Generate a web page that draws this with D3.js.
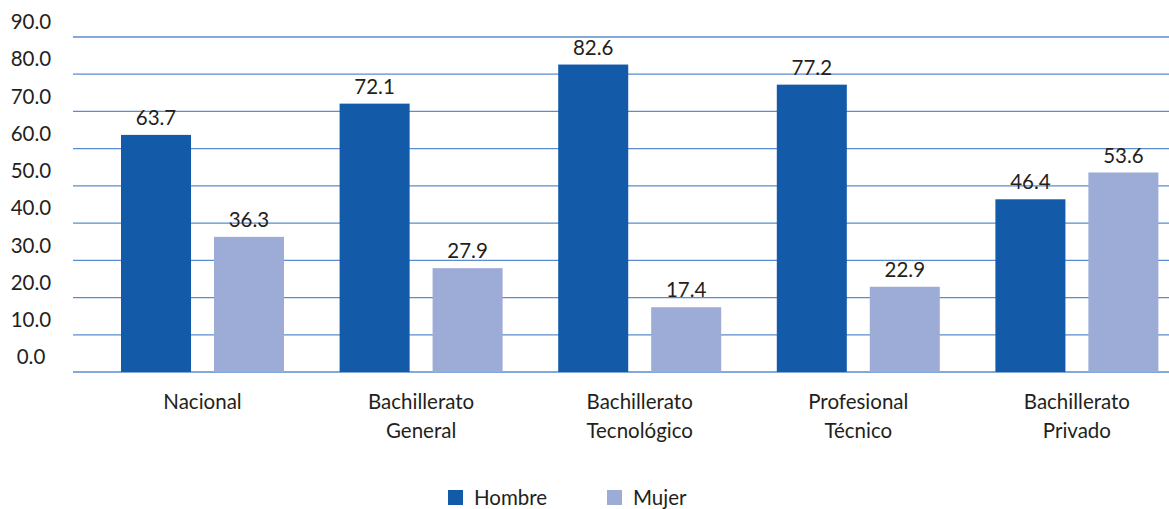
<!DOCTYPE html>
<html>
<head>
<meta charset="utf-8">
<script src="https://cdn.jsdelivr.net/npm/d3@7"></script>
<style>
  body { margin: 0; background: #fff; }
  text { font-family: Lato, "Open Sans", sans-serif; fill: #231f20; }
</style>
</head>
<body>
<div id="chart"></div>
<script>
// categories (each split into lines)
const categories = [
  ['Nacional'],
  ['Bachillerato', 'General'],
  ['Bachillerato', 'Tecnológico'],
  ['Profesional', 'Técnico'],
  ['Bachillerato', 'Privado']
];
const hombre = [63.7, 72.1, 82.6, 77.2, 46.4];
const mujer = [36.3, 27.9, 17.4, 22.9, 53.6];
const seriesNames = ['Hombre', 'Mujer'];
const yTicks = [0, 10, 20, 30, 40, 50, 60, 70, 80, 90];

const W = 1169, H = 509;
const colors = { Hombre: '#135ba9', Mujer: '#9dabd7' };
const fs = '20.5px';

const svg = d3.select('#chart').append('svg')
  .attr('width', W).attr('height', H);

const cats = categories.map(c => c.join(' '));

//band for each group, runs a bit past the right edge like the original
const x = d3.scaleBand().domain(cats).range([93.2, 1186.2]).paddingInner(0).paddingOuter(0);
const inner = d3.scaleBand().domain(seriesNames).range([27.8, x.bandwidth() - 27.8]).paddingInner(0.247);

const y = d3.scaleLinear().domain([0, 90]).range([372, 37]);

// grid lines
svg.selectAll('line.grid')
  .data(yTicks)
  .join('line')
  .attr('class', 'grid')
  .attr('x1', 73).attr('x2', W)
  .attr('y1', d => y(d)).attr('y2', d => y(d))
  .attr('stroke', '#5a8ccf')
  .attr('stroke-width', 1.3);

// y labels, sitting half a step above each gridline
svg.selectAll('text.ytick')
  .data(yTicks)
  .join('text')
  .attr('class', 'ytick')
  .attr('x', 31)
  .attr('y', d => y(d) - 15)
  .attr('dy', '0.35em')
  .attr('text-anchor', 'middle')
  .style('font-size', fs)
  .text(d => d.toFixed(1));

const rows = [];
cats.forEach((c, i) => {
  rows.push({ cat: c, s: 'Hombre', v: hombre[i] });
  rows.push({ cat: c, s: 'Mujer', v: mujer[i] });
});

svg.selectAll('rect.bar')
  .data(rows)
  .join('rect')
  .attr('class', 'bar')
  .attr('x', d => x(d.cat) + inner(d.s))
  .attr('width', inner.bandwidth())
  .attr('y', d => y(d.v))
  .attr('height', d => y(0) - y(d.v))
  .attr('fill', d => colors[d.s]);

// value labels
svg.selectAll('text.val')
  .data(rows)
  .join('text')
  .attr('class', 'val')
  .attr('x', d => x(d.cat) + inner(d.s) + inner.bandwidth() / 2)
  .attr('y', d => y(d.v) - 17)
  .attr('dy', '0.35em')
  .attr('text-anchor', 'middle')
  .style('font-size', fs)
  .text(d => d.v.toFixed(1));

// category labels
const catG = svg.selectAll('text.cat')
  .data(categories)
  .join('text')
  .attr('class', 'cat')
  .attr('text-anchor', 'middle')
  .style('font-size', fs);
catG.selectAll('tspan')
  .data((d, i) => d.map(t => ({ t, i })))
  .join('tspan')
  .attr('x', d => x(cats[d.i]) + x.bandwidth() / 2)
  .attr('y', (d, j) => 402 + j * 29)
  .attr('dy', '0.35em')
  .text(d => d.t);

// legend
const legendX = [448, 607];
const leg = svg.selectAll('g.leg')
  .data(seriesNames)
  .join('g')
  .attr('class', 'leg')
  .attr('transform', (d, i) => `translate(${legendX[i]}, 490)`);
leg.append('rect')
  .attr('width', 15).attr('height', 15)
  .attr('fill', d => colors[d]);
leg.append('text')
  .attr('x', 26).attr('y', 7.5).attr('dy', '0.35em')
  .style('font-size', fs)
  .text(d => d);
</script>
</body>
</html>
